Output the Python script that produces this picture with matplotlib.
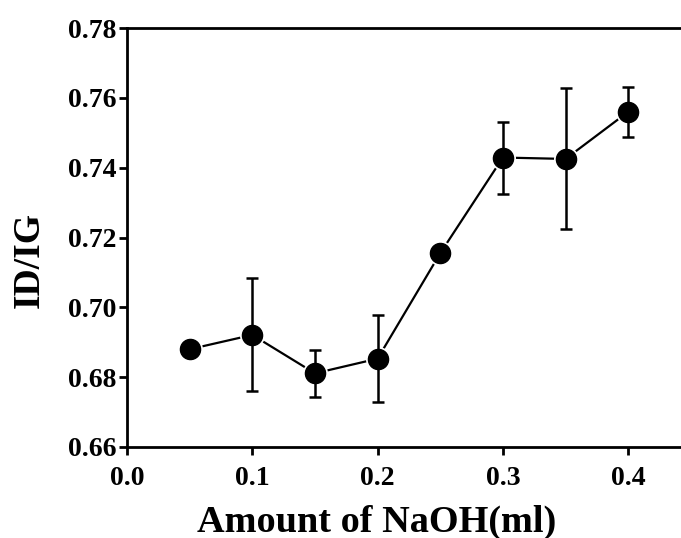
import matplotlib
matplotlib.use("Agg")
import matplotlib.pyplot as plt

# ID/IG vs amount of NaOH
naoh = [0.05, 0.10, 0.15, 0.20, 0.25, 0.30, 0.35, 0.40]
ratio = [0.6880, 0.6921, 0.6811, 0.6853, 0.7155, 0.7429, 0.7425, 0.7560]
err = [0.0, 0.0162, 0.0068, 0.0125, 0.0, 0.0103, 0.0202, 0.0072]

plt.rcParams['font.family'] = ['Liberation Serif', 'DejaVu Serif']
plt.rcParams['font.weight'] = 'bold'

W, H = 681, 538
fig = plt.figure(figsize=(W / 100, H / 100), dpi=100)
x0, x1 = 127, 127 + 0.45 * 1253
y0, y1 = 447, 28
ax = fig.add_axes([x0 / W, 1 - y0 / H, (x1 - x0) / W, (y0 - y1) / H])

ax.plot(naoh, ratio, color='black', lw=1.6, zorder=1)
ax.plot(naoh, ratio, 'o', ms=17, color='white', zorder=2)
ax.errorbar(naoh, ratio, yerr=err, fmt='none', ecolor='black',
            elinewidth=1.8, capsize=4.5, capthick=1.8, zorder=3)
ax.plot(naoh, ratio, 'o', ms=14.5, color='black', zorder=4)

ax.set_xlim(0, 0.45)
ax.set_ylim(0.66, 0.78)
ax.set_xticks([0.0, 0.1, 0.2, 0.3, 0.4])
ax.set_xticklabels(['0.0', '0.1', '0.2', '0.3', '0.4'])
ax.set_yticks([0.66, 0.68, 0.70, 0.72, 0.74, 0.76, 0.78])
ax.set_yticklabels(['0.66', '0.68', '0.70', '0.72', '0.74', '0.76', '0.78'])

for s in ['left', 'bottom', 'top']:
    ax.spines[s].set_linewidth(2)
ax.spines['right'].set_visible(False)
ax.tick_params(direction='out', length=5.5, width=2, labelsize=20)
ax.tick_params(axis='x', pad=8)
ax.tick_params(axis='y', pad=2)

ax.set_xlabel('Amount of NaOH(ml)', fontsize=27.5, fontweight='bold')
ax.set_ylabel('ID/IG', fontsize=27, fontweight='bold')
ax.xaxis.set_label_coords(0.443, -0.137)
ax.yaxis.set_label_coords(-0.142, 0.446)

fig.savefig('out.png', dpi=100)
